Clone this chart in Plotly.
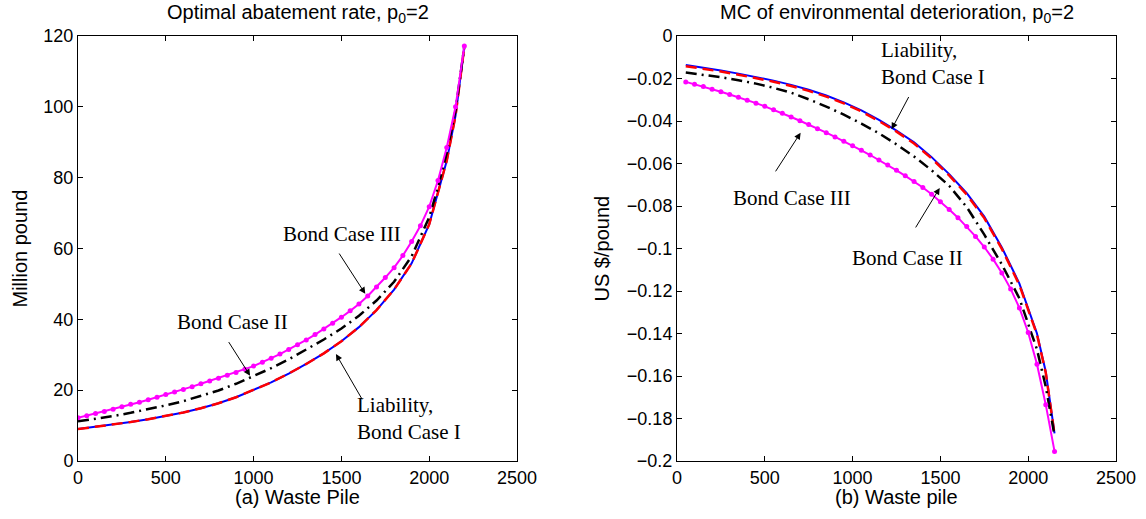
import plotly.graph_objects as go

# ---------------- data: (a) optimal abatement rate ----------------
xa_line = [0, 100, 200, 300, 400, 500, 600, 700, 800, 900, 1000, 1100, 1200, 1300,
           1400, 1500, 1600, 1700, 1800, 1900, 2000, 2050, 2100, 2150, 2200]
a_liability = [9.0, 9.6, 10.3, 11.0, 11.8, 12.7, 13.7, 14.9, 16.3, 18.0, 20.0, 22.2, 24.7, 27.4,
               30.4, 33.8, 37.8, 42.6, 48.4, 55.8, 66.8, 75.5, 84.8, 97.5, 117.0]
a_bond1 = [9.0, 9.6, 10.3, 11.0, 11.8, 12.7, 13.7, 14.9, 16.3, 18.0, 20.0, 22.2, 24.7, 27.4,
           30.4, 33.8, 37.8, 42.6, 48.4, 55.8, 66.8, 75.5, 84.8, 97.5, 117.0]
a_bond2 = [11.2, 11.9, 12.7, 13.6, 14.6, 15.7, 16.9, 18.3, 19.9, 21.8, 23.9, 26.2, 28.7, 31.4,
           34.3, 37.4, 41.0, 45.3, 50.6, 57.8, 68.8, 77.3, 87.0, 99.0, 117.0]
xa_b3 = [0, 50, 100, 150, 200, 250, 300, 350, 400, 450, 500, 550, 600, 650, 700, 750, 800,
         850, 900, 950, 1000, 1050, 1100, 1150, 1200, 1250, 1300, 1350, 1400, 1450, 1500,
         1550, 1600, 1650, 1700, 1750, 1800, 1850, 1900, 1950, 2000, 2050, 2100, 2150, 2200]
a_bond3 = [12.2, 12.8, 13.4, 14.0, 14.6, 15.3, 16.0, 16.6, 17.3, 18.0, 18.8, 19.5, 20.2, 21.0,
           21.8, 22.6, 23.4, 24.2, 25.0, 25.9, 26.8, 27.9, 29.0, 30.2, 31.5, 32.8, 34.2, 35.7,
           37.3, 38.9, 40.6, 42.4, 44.3, 46.6, 49.1, 51.8, 54.6, 58.0, 62.0, 66.4, 71.8, 79.2,
           88.5, 100.0, 117.2]

# ---------------- data: (b) MC of environmental deterioration ----------------
xb_line = [50, 150, 250, 350, 450, 550, 650, 750, 850, 950, 1050, 1150, 1250, 1350, 1450,
           1550, 1650, 1750, 1850, 1950, 2050, 2100, 2150]
b_liability = [-0.0137, -0.0149, -0.0162, -0.0177, -0.0193, -0.0210, -0.0230, -0.0253, -0.0280,
               -0.0312, -0.0350, -0.0395, -0.0445, -0.0500, -0.0570, -0.0650, -0.0740, -0.0850,
               -0.0995, -0.1165, -0.1400, -0.1580, -0.1870]
b_bond1 = [-0.0142, -0.0154, -0.0167, -0.0182, -0.0198, -0.0215, -0.0235, -0.0258, -0.0285,
           -0.0317, -0.0355, -0.0400, -0.0450, -0.0506, -0.0576, -0.0656, -0.0746, -0.0857,
           -0.1002, -0.1172, -0.1405, -0.1585, -0.1875]
b_bond2 = [-0.0172, -0.0182, -0.0194, -0.0208, -0.0224, -0.0244, -0.0267, -0.0298, -0.0332,
           -0.0370, -0.0412, -0.0458, -0.0510, -0.0567, -0.0632, -0.0705, -0.0805, -0.0935,
           -0.1075, -0.1235, -0.1475, -0.1650, -0.1880]
xb_b3 = [50, 100, 150, 200, 250, 300, 350, 400, 450, 500, 550, 600, 650, 700, 750, 800, 850,
         900, 950, 1000, 1050, 1100, 1150, 1200, 1250, 1300, 1350, 1400, 1450, 1500, 1550,
         1600, 1650, 1700, 1750, 1800, 1850, 1900, 1950, 2000, 2050, 2100, 2150]
b_bond3 = [-0.0216, -0.0227, -0.0238, -0.0250, -0.0262, -0.0275, -0.0288, -0.0302, -0.0316,
           -0.0331, -0.0347, -0.0364, -0.0381, -0.0399, -0.0417, -0.0436, -0.0455, -0.0475,
           -0.0495, -0.0516, -0.0538, -0.0560, -0.0583, -0.0607, -0.0632, -0.0658, -0.0685,
           -0.0713, -0.0745, -0.0780, -0.0816, -0.0855, -0.0897, -0.0943, -0.0993, -0.1050,
           -0.1115, -0.1190, -0.1280, -0.1395, -0.1545, -0.1735, -0.1955]

x_ticks = [0, 500, 1000, 1500, 2000, 2500]
ya_ticks = [0, 20, 40, 60, 80, 100, 120]
yb_ticks = [-0.2, -0.18, -0.16, -0.14, -0.12, -0.1, -0.08, -0.06, -0.04, -0.02, 0]
yb_labels = ["\u22120.2", "\u22120.18", "\u22120.16", "\u22120.14", "\u22120.12", "\u22120.1",
             "\u22120.08", "\u22120.06", "\u22120.04", "\u22120.02", "0"]

BLUE, RED, BLACK, MAG = "#0000ff", "#ff0000", "#000000", "#ff00ff"
SANS = "Liberation Sans, Arial, sans-serif"
SERIF = "Liberation Serif, Times New Roman, serif"

fig = go.Figure()


def add_set(x_line, liab, b1, b2, x3, b3, xa, ya):
    fig.add_trace(go.Scatter(x=x_line, y=liab, mode="lines", xaxis=xa, yaxis=ya,
                             line=dict(color=BLUE, width=2), showlegend=False))
    fig.add_trace(go.Scatter(x=x_line, y=b1, mode="lines", xaxis=xa, yaxis=ya,
                             line=dict(color=RED, width=2.5, dash="11px,6px"), showlegend=False))
    fig.add_trace(go.Scatter(x=x_line, y=b2, mode="lines", xaxis=xa, yaxis=ya,
                             line=dict(color=BLACK, width=2.5, dash="11px,5px,2px,5px"),
                             showlegend=False))
    fig.add_trace(go.Scatter(x=x3, y=b3, mode="lines+markers", xaxis=xa, yaxis=ya,
                             line=dict(color=MAG, width=2),
                             marker=dict(color=MAG, size=5), showlegend=False))


add_set(xa_line, a_liability, a_bond1, a_bond2, xa_b3, a_bond3, "x", "y")
add_set(xb_line, b_liability, b_bond1, b_bond2, xb_b3, b_bond3, "x2", "y2")

axis_common = dict(showline=True, linecolor="black", linewidth=1, mirror="ticks",
                   ticks="inside", ticklen=5, tickcolor="black", showgrid=False,
                   zeroline=False, automargin=False,
                   tickfont=dict(family=SANS, size=18, color="black"))

fig.update_layout(
    width=1146, height=519,
    margin=dict(l=0, r=0, t=36, b=58),
    plot_bgcolor="white", paper_bgcolor="white",
    xaxis=dict(domain=[78 / 1146, 517 / 1146], range=[0, 2500], tickvals=x_ticks,
               anchor="y", **axis_common),
    yaxis=dict(domain=[0, 1], range=[0, 120], tickvals=ya_ticks, anchor="x", **axis_common),
    xaxis2=dict(domain=[677 / 1146, 1116 / 1146], range=[0, 2500], tickvals=x_ticks,
                anchor="y2", **axis_common),
    yaxis2=dict(domain=[0, 1], range=[-0.2, 0], tickvals=yb_ticks, ticktext=yb_labels,
                anchor="x2", **axis_common),
)

ann = []
lab_font = dict(family=SANS, size=20, color="black")
# titles and axis labels
ann.append(dict(text="Optimal abatement rate, p<sub>0</sub>=2", xref="x domain", yref="paper",
                x=0.5, y=1.0, yshift=23, xanchor="center", yanchor="middle",
                showarrow=False, font=lab_font))
ann.append(dict(text="MC of environmental deterioration, p<sub>0</sub>=2", xref="x2 domain",
                yref="paper", x=0.5, y=1.0, yshift=23, xanchor="center", yanchor="middle",
                showarrow=False, font=lab_font))
ann.append(dict(text="(a) Waste Pile", xref="x domain", yref="paper", x=0.5, y=0, yshift=-36,
                xanchor="center", yanchor="middle", showarrow=False, font=lab_font))
ann.append(dict(text="(b) Waste pile", xref="x2 domain", yref="paper", x=0.5, y=0, yshift=-36,
                xanchor="center", yanchor="middle", showarrow=False, font=lab_font))
ann.append(dict(text="Million pound", xref="paper", yref="paper", x=19 / 1146, y=0.5,
                textangle=-90, xanchor="center", yanchor="middle", showarrow=False,
                font=lab_font))
ann.append(dict(text="US $/pound", xref="paper", yref="paper", x=601 / 1146, y=0.5,
                textangle=-90, xanchor="center", yanchor="middle", showarrow=False,
                font=lab_font))

tfont = dict(family=SERIF, size=21, color="black")
arrow = dict(showarrow=True, arrowhead=2, arrowsize=1.3, arrowwidth=1, arrowcolor="black")
# panel (a) labels
ann.append(dict(text="Bond Case III", xref="x", yref="y", x=1503, y=64, showarrow=False, font=tfont))
ann.append(dict(text="", xref="x", yref="y", x=1636, y=47.2, ax=1482, ay=59, axref="x", ayref="y",
                **arrow))
ann.append(dict(text="Bond Case II", xref="x", yref="y", x=880, y=39.2, showarrow=False, font=tfont))
ann.append(dict(text="", xref="x", yref="y", x=980, y=24.1, ax=853, ay=34, axref="x", ayref="y",
                **arrow))
ann.append(dict(text="Liability,<br>Bond Case I", xref="x", yref="y", x=1580, y=12, xanchor="left",
                align="left", showarrow=False, font=tfont))
ann.append(dict(text="", xref="x", yref="y", x=1469, y=30.2, ax=1623, ay=17, axref="x", ayref="y",
                **arrow))
# panel (b) labels
ann.append(dict(text="Liability,<br>Bond Case I", xref="x2", yref="y2", x=1150, y=-0.013,
                xanchor="left", align="left", showarrow=False, font=tfont))
ann.append(dict(text="", xref="x2", yref="y2", x=1222, y=-0.0439, ax=1324, ay=-0.028, axref="x2",
                ayref="y2", **arrow))
ann.append(dict(text="Bond Case III", xref="x2", yref="y2", x=657, y=-0.0762, showarrow=False,
                font=tfont))
ann.append(dict(text="", xref="x2", yref="y2", x=704, y=-0.0455, ax=556, ay=-0.0644, axref="x2",
                ayref="y2", **arrow))
ann.append(dict(text="Bond Case II", xref="x2", yref="y2", x=1310, y=-0.1045, showarrow=False,
                font=tfont))
ann.append(dict(text="", xref="x2", yref="y2", x=1496, y=-0.0715, ax=1354, ay=-0.0908, axref="x2",
                ayref="y2", **arrow))

fig.update_layout(annotations=ann)
fig.write_html("out.html", config={"displayModeBar": False},
               post_script="document.body.style.margin='0px';")
